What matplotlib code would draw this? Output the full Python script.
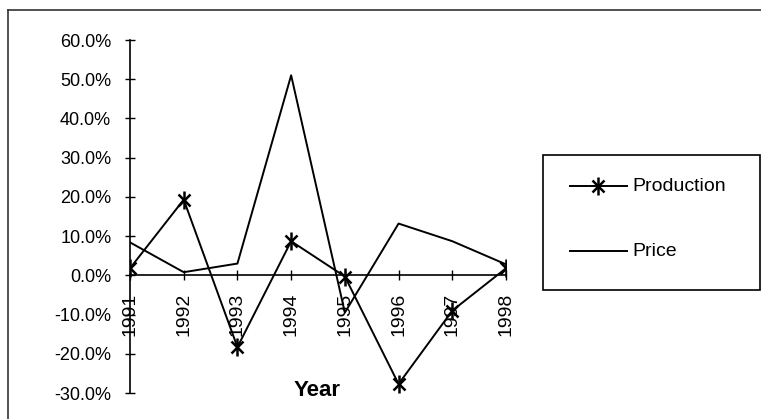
import matplotlib
matplotlib.use('Agg')
import matplotlib.pyplot as plt
from matplotlib.lines import Line2D

plt.rcParams['font.family'] = ['Liberation Sans', 'DejaVu Sans']

# data (percent change per year)
years = [1991, 1992, 1993, 1994, 1995, 1996, 1997, 1998]
production = [1.8, 19.3, -18.3, 8.7, -0.3, -27.7, -9.0, 1.8]
price = [8.4, 0.8, 3.0, 51.0, -9.5, 13.2, 8.7, 2.8]
y_ticks = [-30, -20, -10, 0, 10, 20, 30, 40, 50, 60]

W, H = 761, 419
fig = plt.figure(figsize=(W / 100, H / 100), dpi=100)

# axes placed in pixel terms
x0, x1 = 130, 506
y_top, y_bot = 40, 393
ax = fig.add_axes([x0 / W, (H - y_bot) / H, (x1 - x0) / W, (y_bot - y_top) / H])
ax.patch.set_alpha(0)

for s in ['top', 'right']:
    ax.spines[s].set_visible(False)
ax.spines['bottom'].set_position(('data', 0))
ax.spines['left'].set_linewidth(1.2)
ax.spines['bottom'].set_linewidth(1.2)

# excel-like star marker: x with a vertical bar
ax.plot(years, production, color='black', lw=1.4)
ax.plot(years, production, ls='none', color='black', marker='x', ms=9, mew=1.8)
ax.plot(years, production, ls='none', color='black', marker='|', ms=13, mew=1.8)
ax.plot(years, price, color='black', lw=1.4)

ax.set_xlim(years[0], years[-1])
ax.set_ylim(-30, 60)
ax.set_yticks(y_ticks)
ax.set_yticklabels(['%.1f%%' % v for v in y_ticks], fontsize=13)
ax.set_xticks(years)
ax.set_xticklabels([str(y) for y in years], rotation=90, fontsize=14, va='top')
ax.tick_params(axis='y', direction='inout', length=7, width=1, pad=10)
ax.tick_params(axis='x', direction='inout', length=7, width=1, pad=9)

fig.text(317 / W, 1 - 391 / H, 'Year', ha='center', va='center',
         fontsize=16, fontweight='bold')

# outer chart border (top and left only visible)
fig.add_artist(Line2D([8 / W, 1], [1 - 10 / H, 1 - 10 / H], color='#333333', lw=1.2))
fig.add_artist(Line2D([8 / W, 8 / W], [0, 1 - 10 / H], color='#333333', lw=1.2))

# legend box
lx0, lx1, ly0, ly1 = 543, 760, 155, 290
box = plt.Rectangle((lx0 / W, 1 - ly1 / H), (lx1 - lx0) / W, (ly1 - ly0) / H,
                    transform=fig.transFigure, fill=False, ec='black', lw=1.2)
fig.add_artist(box)
for yy, lab, mk in [(186, 'Production', True), (251, 'Price', False)]:
    fy = 1 - yy / H
    fig.add_artist(Line2D([570 / W, 627 / W], [fy, fy], color='black', lw=1.4))
    if mk:
        fig.add_artist(Line2D([598 / W], [fy], color='black', marker='x', ms=9, mew=1.8))
        fig.add_artist(Line2D([598 / W], [fy], color='black', marker='|', ms=13, mew=1.8))
    fig.text(632 / W, fy, lab, ha='left', va='center', fontsize=14)

fig.savefig('out.png', dpi=100)
